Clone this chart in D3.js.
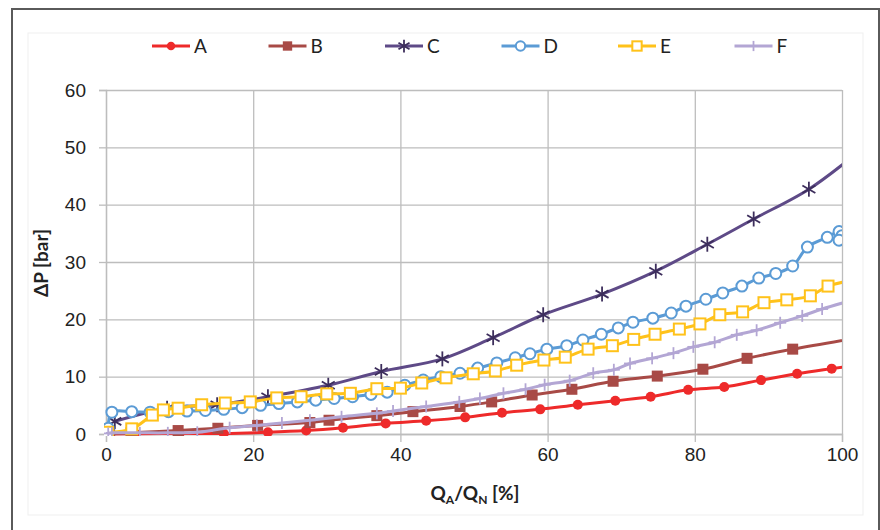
<!DOCTYPE html>
<html>
<head>
<meta charset="utf-8">
<script src="https://cdn.jsdelivr.net/npm/d3@7"></script>
<style>
  body { margin: 0; background: #fff; }
  svg { display: block; font-family: Lato, "Open Sans", sans-serif; }
</style>
</head>
<body>
<div id="chart"></div>
<script>
// Données : [Q_A/Q_N %, ΔP bar]
// Les derniers points de A, B, C, E, F dépassent 100 et sont coupés par le clip (comme dans Excel)
const seriesNames = ["A", "B", "C", "D", "E", "F"]

const serieA = [[0.5, 0], [4, 0.05], [10, 0.1], [16, 0.1], [22, 0.3], [27.2, 0.6], [32.2, 1.1],
  [38, 1.85], [43.5, 2.3], [48.8, 2.9], [53.8, 3.7], [59, 4.3], [64.1, 5.1], [69.2, 5.8],
  [74, 6.5], [79.1, 7.7], [84, 8.2], [89, 9.4], [93.9, 10.5], [98.6, 11.4], [103.5, 12.3]]

const serieB = [[0.5, 0.1], [3.4, 0.2], [9.8, 0.6], [15.2, 1.0], [20.6, 1.5], [27.7, 2.0],
  [30.3, 2.4], [36.8, 3.2], [41.7, 3.9], [48.1, 4.8], [52.4, 5.6], [57.9, 6.8], [63.3, 7.8],
  [68.9, 9.2], [74.9, 10.1], [81.1, 11.3], [87.1, 13.2], [93.3, 14.8], [104, 17.2]]

const serieC = [[1.2, 2.2], [8.3, 4.5], [15.1, 5.1], [22, 6.5], [30.2, 8.5], [37.4, 10.9],
  [45.7, 13.1], [52.6, 16.8], [59.4, 20.8], [67.4, 24.4], [74.7, 28.4], [81.7, 33.1],
  [88, 37.5], [95.5, 42.7], [102.5, 49.5]]

const serieD = [[0.3, 1.0], [0.8, 3.8], [3.5, 3.9], [6, 3.8], [8.5, 3.9], [11, 4.0], [13.5, 4.1],
  [16, 4.3], [18.5, 4.6], [21, 5.0], [23.5, 5.3], [26, 5.6], [28.5, 5.9], [31, 6.2], [33.5, 6.5],
  [36, 6.9], [38.2, 7.3], [40.6, 8.5], [43.1, 9.4], [45.5, 10], [48.1, 10.6], [50.5, 11.5],
  [53.1, 12.4], [55.6, 13.3], [57.6, 14], [59.9, 14.8], [62.6, 15.4], [64.8, 16.4], [67.3, 17.4],
  [69.6, 18.5], [71.6, 19.5], [74.3, 20.2], [76.8, 21.1], [78.8, 22.3], [81.5, 23.5],
  [83.8, 24.6], [86.4, 25.8], [88.7, 27.2], [91, 28], [93.3, 29.3], [95.3, 32.6], [98, 34.3],
  [99.6, 35.3], [100, 34.6], [99.6, 33.8]]

const serieE = [[0.2, 0.3], [3.5, 0.9], [6.3, 3.3], [7.8, 4.2], [9.8, 4.5], [13, 5.1], [16.2, 5.4],
  [19.6, 5.6], [23.2, 6.3], [26.5, 6.5], [30, 7.0], [33.2, 7.1], [36.8, 7.9], [40, 8.0],
  [42.9, 8.9], [46.2, 9.8], [49.9, 10.5], [52.9, 11], [55.8, 12], [59.5, 12.9], [62.4, 13.4],
  [65.5, 14.8], [68.8, 15.4], [71.7, 16.5], [74.6, 17.4], [77.9, 18.3], [80.7, 19.2],
  [83.4, 20.8], [86.5, 21.3], [89.4, 22.9], [92.5, 23.4], [95.7, 24.1], [98.1, 25.8], [102, 26.9]]

const serieF = [[0.3, 0.1], [0.8, 0.2], [4.6, 0.2], [8.4, 0.2], [12.4, 0.3], [16.8, 1.1],
  [20.5, 1.5], [23.9, 1.9], [27.7, 2.4], [32, 3.0], [36.8, 3.6], [39, 4.0], [43.5, 4.8],
  [48, 5.6], [50.8, 6.2], [54, 7.1], [57, 7.8], [59.6, 8.6], [63, 9.3], [66.2, 10.6], [69, 11.2],
  [71.2, 12.3], [74.2, 13.2], [77.1, 14.1], [79.8, 15.2], [82.7, 16], [85.7, 17.3], [88.4, 18.1],
  [91.6, 19.4], [94.6, 20.6], [97.3, 21.8], [101, 23.2]]

const xTicks = [0, 20, 40, 60, 80, 100]
const yTicks = [0, 10, 20, 30, 40, 50, 60]

const allSeries = [serieA, serieB, serieC, serieD, serieE, serieF]

// Style par série
const styles = {
  A: { color: "#EE2A2A", marker: "dot" },
  B: { color: "#A84A46", marker: "square" },
  C: { color: "#5E4A87", markerColor: "#3D2E5C", marker: "star" },
  D: { color: "#5B9BD5", marker: "circle" },
  E: { color: "#FFC21A", marker: "osquare" },
  F: { color: "#B3A6D4", marker: "plus" },
}

const W = 880, H = 530
const margin = { top: 90, right: 38, bottom: 96, left: 106 }
const width = W - margin.left - margin.right
const height = H - margin.top - margin.bottom

const svg = d3.select("#chart").append("svg")
  .attr("width", W).attr("height", H)

// Cadres
svg.append("rect").attr("x", 12).attr("y", 9).attr("width", 867).attr("height", 540)
  .attr("fill", "#fff").attr("stroke", "#5a5a5a").attr("stroke-width", 2)
svg.append("rect").attr("x", 28).attr("y", 33).attr("width", 835).attr("height", 482)
  .attr("fill", "none").attr("stroke", "#efefef").attr("stroke-width", 1)

const g = svg.append("g").attr("transform", `translate(${margin.left},${margin.top})`)

const x = d3.scaleLinear().domain([0, 100]).range([0, width])
const y = d3.scaleLinear().domain([0, 60]).range([height, 0])

const gridColor = "#BDBDBD"

// Grille
g.append("g")
  .call(d3.axisLeft(y).tickValues(yTicks).tickSize(-width).tickFormat(""))
  .call((s) => s.select(".domain").remove())
  .call((s) => s.selectAll("line").attr("stroke", gridColor).attr("stroke-width", 1.3))

g.append("g")
  .attr("transform", `translate(0,${height})`)
  .call(d3.axisBottom(x).tickValues(xTicks).tickSize(-height).tickFormat(""))
  .call((s) => s.select(".domain").remove())
  .call((s) => s.selectAll("line").attr("stroke", gridColor).attr("stroke-width", 1.3))

// Axes (graduations extérieures)
g.append("g")
  .attr("transform", `translate(0,${height})`)
  .call(d3.axisBottom(x).tickValues(xTicks).tickSize(8).tickPadding(6))
  .call((s) => s.select(".domain").attr("stroke", gridColor).attr("stroke-width", 1.3))
  .call((s) => s.selectAll("line").attr("stroke", gridColor).attr("stroke-width", 1.3))
  .call((s) => s.selectAll("text").attr("fill", "#222").attr("font-size", 19))

g.append("g")
  .call(d3.axisLeft(y).tickValues(yTicks).tickSize(7).tickPadding(13))
  .call((s) => s.select(".domain").attr("stroke", gridColor).attr("stroke-width", 1.3))
  .call((s) => s.selectAll("line").attr("stroke", gridColor).attr("stroke-width", 1.3))
  .call((s) => s.selectAll("text").attr("fill", "#222").attr("font-size", 19))

// Titres d'axes
const xt = svg.append("text")
  .attr("x", 475).attr("y", 500)
  .attr("text-anchor", "middle").attr("font-size", 19).attr("font-weight", 700).attr("fill", "#222")
xt.append("tspan").text("Q")
xt.append("tspan").attr("font-size", 12).attr("dy", 4).text("A")
xt.append("tspan").attr("dy", -4).text("/Q")
xt.append("tspan").attr("font-size", 12).attr("dy", 4).text("N")
xt.append("tspan").attr("dy", -4).text(" [%]")

svg.append("text")
  .attr("transform", "rotate(-90)")
  .attr("x", -263).attr("y", 48)
  .attr("text-anchor", "middle").attr("font-size", 19).attr("font-weight", 700).attr("fill", "#222")
  .text("ΔP [bar]")

// Marqueurs (s = échelle, plus petite dans la légende)
function drawMarker(sel, kind, st, s = 1) {
  const mc = st.markerColor || st.color
  if (kind === "dot") {
    sel.append("circle").attr("r", 5 * s).attr("fill", mc)
  } else if (kind === "square") {
    sel.append("rect").attr("x", -5.5 * s).attr("y", -5.5 * s).attr("width", 11 * s).attr("height", 11 * s).attr("fill", mc)
  } else if (kind === "star") {
    const r = 7.5 * s
    for (let a = 0; a < 180; a += 60) {
      const rad = (a + 90) * Math.PI / 180
      sel.append("line")
        .attr("x1", -r * Math.cos(rad)).attr("y1", -r * Math.sin(rad))
        .attr("x2", r * Math.cos(rad)).attr("y2", r * Math.sin(rad))
        .attr("stroke", mc).attr("stroke-width", 1.8)
    }
  } else if (kind === "circle") {
    sel.append("circle").attr("r", 5.5 * s).attr("fill", "#fff").attr("stroke", mc).attr("stroke-width", 2)
  } else if (kind === "osquare") {
    sel.append("rect").attr("x", -5.5 * s).attr("y", -5.5 * s).attr("width", 11 * s).attr("height", 11 * s)
      .attr("fill", "#fff").attr("stroke", mc).attr("stroke-width", 2)
  } else if (kind === "plus") {
    sel.append("line").attr("x1", -6 * s).attr("x2", 6 * s).attr("stroke", mc).attr("stroke-width", 1.8)
    sel.append("line").attr("y1", -6 * s).attr("y2", 6 * s).attr("stroke", mc).attr("stroke-width", 1.8)
  }
}

svg.append("defs").append("clipPath").attr("id", "plot-clip")
  .append("rect").attr("x", -2).attr("y", -2).attr("width", width + 2).attr("height", height + 4)

const plot = g.append("g").attr("clip-path", "url(#plot-clip)")

const line = d3.line()
  .x((d) => x(d[0]))
  .y((d) => y(d[1]))
  .curve(d3.curveCatmullRom.alpha(0.5))

seriesNames.forEach((name, i) => {
  const st = styles[name]
  const pts = allSeries[i]
  const sg = plot.append("g")
  sg.append("path")
    .datum(pts)
    .attr("fill", "none")
    .attr("stroke", st.color)
    .attr("stroke-width", 3)
    .attr("d", line)
  sg.selectAll("g.mk")
    .data(pts)
    .join("g")
    .attr("class", "mk")
    .attr("transform", (d) => `translate(${x(d[0])},${y(d[1])})`)
    .each(function () { drawMarker(d3.select(this), st.marker, st) })
})

// Légende
const legend = svg.append("g").attr("transform", "translate(152,46)")
seriesNames.forEach((name, i) => {
  const st = styles[name]
  const row = legend.append("g").attr("transform", `translate(${i * 116.5},0)`)
  row.append("line").attr("x1", 0).attr("x2", 38)
    .attr("stroke", st.color).attr("stroke-width", 3)
  drawMarker(row.append("g").attr("transform", "translate(19,0)"), st.marker, st, 0.85)
  row.append("text").attr("x", 42).attr("y", 7)
    .attr("font-size", 19).attr("fill", "#222")
    .text(name)
})
</script>
</body>
</html>
